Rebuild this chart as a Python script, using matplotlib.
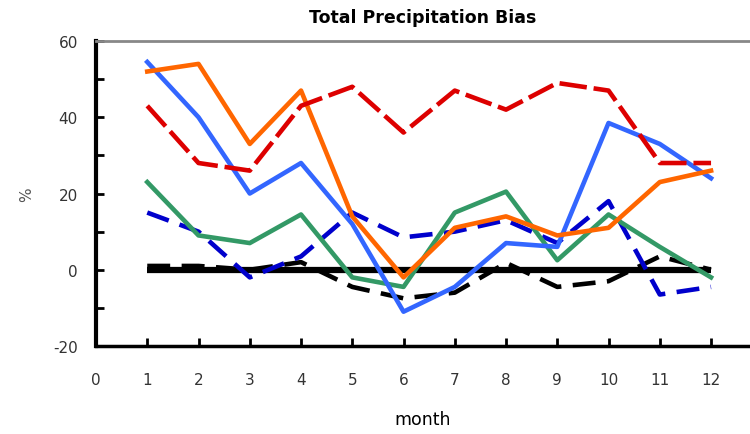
import matplotlib
matplotlib.use("Agg")
import matplotlib.pyplot as plt
from matplotlib.ticker import MultipleLocator

plt.rcParams["axes.unicode_minus"] = False

months = [1, 2, 3, 4, 5, 6, 7, 8, 9, 10, 11, 12]

# bias per run, %
red_dash = [43, 28, 26, 43, 48, 36, 47, 42, 49, 47, 28, 28]
orange = [52, 54, 33, 47, 14, -2, 11, 14, 9, 11, 23, 26]
light_blue = [54.5, 40, 20, 28, 12, -11, -4.5, 7, 6, 38.5, 33, 24]
green = [23, 9, 7, 14.5, -2, -4.5, 15, 20.5, 2.5, 14.5, 6, -2]
navy_dash = [15, 10, -2, 3.5, 15, 8.5, 10, 13, 7, 18, -6.5, -4.5]
black_dash = [1, 1, 0, 2, -4.5, -7.5, -6, 1.8, -4.5, -3, 3.5, 0]
zero_line = [0] * 12

fig = plt.figure(figsize=(7.5, 4.35), dpi=100)
ax = fig.add_axes([0.128, 0.2023, 0.872, 0.7011])

ax.plot(months, zero_line, color="black", lw=4.5, solid_capstyle="butt", zorder=2)
ax.plot(months, black_dash, color="black", lw=3.3, dashes=(5, 2.5), zorder=3)
ax.plot(months, navy_dash, color="#0000CC", lw=3.3, dashes=(5, 2.5), zorder=3)
ax.plot(months, green, color="#339966", lw=3.3, zorder=3)
ax.plot(months, light_blue, color="#3366FF", lw=3.3, zorder=3)
ax.plot(months, orange, color="#FF6600", lw=3.3, zorder=3)
ax.plot(months, red_dash, color="#DD0000", lw=3.3, dashes=(6, 1.5), zorder=3)

ax.set_xlim(0, 12.76)
ax.set_ylim(-20, 60)
ax.set_xticks(range(0, 13))
ax.yaxis.set_major_locator(MultipleLocator(20))
ax.yaxis.set_minor_locator(MultipleLocator(10))
ax.tick_params(axis="both", which="both", direction="in", width=2, color="black",
               labelsize=11, labelcolor="#333333")
ax.tick_params(axis="y", which="major", length=6, pad=13)
ax.tick_params(axis="y", which="minor", length=6)
ax.tick_params(axis="x", which="major", length=6, pad=19)

ax.spines["right"].set_visible(False)
ax.spines["top"].set_color("#888888")
ax.spines["top"].set_linewidth(2)
ax.spines["left"].set_linewidth(3)
ax.spines["bottom"].set_linewidth(2.5)

ax.set_title("Total Precipitation Bias", fontsize=12.5, fontweight="bold", pad=14)
ax.set_xlabel("month", fontsize=12.5, labelpad=16)
ax.set_ylabel("%", fontsize=11, labelpad=14, color="#555555")

fig.savefig("out.png", dpi=100)
